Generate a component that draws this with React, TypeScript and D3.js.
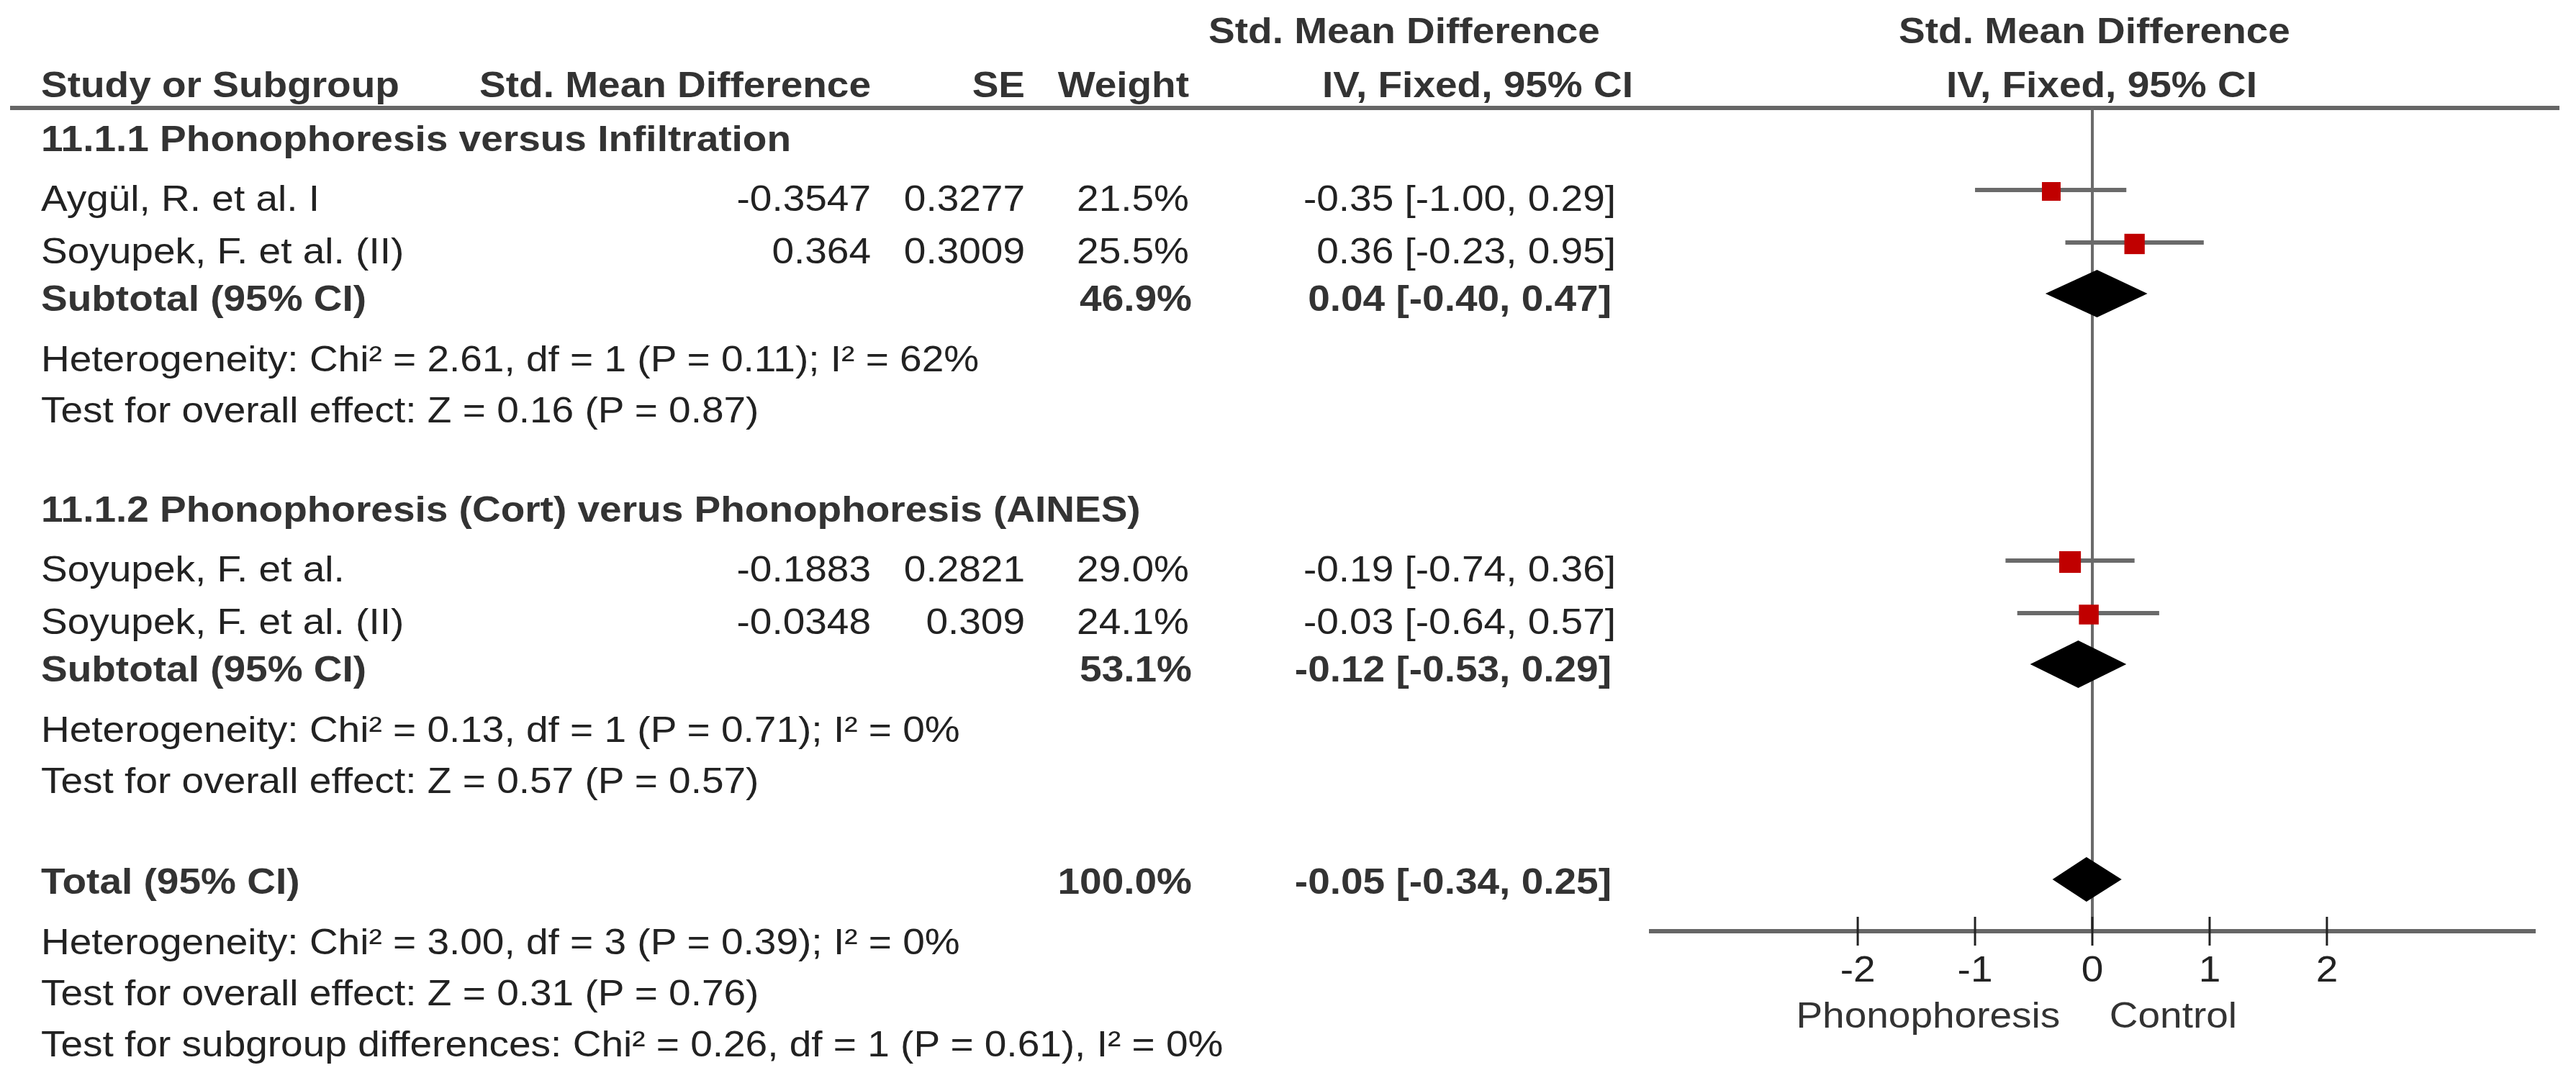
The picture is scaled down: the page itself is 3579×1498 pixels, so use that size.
import React, { useEffect, useRef } from 'react';
import * as d3 from 'd3';

// Study rows
const groupTitles = [
  '11.1.1 Phonophoresis versus Infiltration',
  '11.1.2 Phonophoresis (Cort) verus Phonophoresis (AINES)',
];
const studyNames = ['Aygül, R. et al. I', 'Soyupek, F. et al. (II)', 'Soyupek, F. et al.', 'Soyupek, F. et al. (II)'];
const studyGroup = [0, 0, 1, 1];
const smdLabels = ['-0.3547', '0.364', '-0.1883', '-0.0348'];
const seLabels = ['0.3277', '0.3009', '0.2821', '0.309'];
const studyWeights = [21.5, 25.5, 29.0, 24.1];
const studyEst = [-0.35, 0.36, -0.19, -0.03];
const studyLower = [-1.0, -0.23, -0.74, -0.64];
const studyUpper = [0.29, 0.95, 0.36, 0.57];

// Subtotals
const subWeights = [46.9, 53.1];
const subEst = [0.04, -0.12];
const subLower = [-0.4, -0.53];
const subUpper = [0.47, 0.29];
const subHetero = [
  'Heterogeneity: Chi² = 2.61, df = 1 (P = 0.11); I² = 62%',
  'Heterogeneity: Chi² = 0.13, df = 1 (P = 0.71); I² = 0%',
];
const subOverall = [
  'Test for overall effect: Z = 0.16 (P = 0.87)',
  'Test for overall effect: Z = 0.57 (P = 0.57)',
];

// Total
const totalWeight = [100.0];
const totalEst = [-0.05];
const totalLower = [-0.34];
const totalUpper = [0.25];
const totalNotes = [
  'Heterogeneity: Chi² = 3.00, df = 3 (P = 0.39); I² = 0%',
  'Test for overall effect: Z = 0.31 (P = 0.76)',
  'Test for subgroup differences: Chi² = 0.26, df = 1 (P = 0.61), I² = 0%',
];

const axisTicks = [-2, -1, 0, 1, 2];
const favourLabels = ['Phonophoresis', 'Control'];

const W = 3579;
const H = 1498;
const FONT = '"Liberation Sans", Arial, sans-serif';
const FS = 50;
const XS = 1.1; // the source text is a little wider than plain Arial

const fmt2 = (v: number) => v.toFixed(2);
const ciLabel = (e: number, lo: number, hi: number) => `${fmt2(e)} [${fmt2(lo)}, ${fmt2(hi)}]`;

const App: React.FC = () => {
  const svgRef = useRef<SVGSVGElement>(null);

  useEffect(() => {
    if (!svgRef.current) return;
    const svg = d3.select(svgRef.current);
    svg.selectAll('*').remove();

    const txt = (x: number, y: number, s: string, anchor = 'start', bold = false, fill = '#222') =>
      svg.append('text')
        .attr('transform', `translate(${x},${y}) scale(${XS},1)`)
        .attr('text-anchor', anchor)
        .style('font-family', FONT)
        .style('font-size', `${FS}px`)
        .style('font-weight', bold ? 'bold' : 'normal')
        .style('fill', fill)
        .text(s);

    // columns
    const colName = 57;
    const colSmd = 1210;
    const colSe = 1424;
    const colWeight = 1652;
    const colCi = 2245;

    const x = d3.scaleLinear().domain([-3.78, 3.78]).range([2291, 3523]);
    const box = d3.scaleSqrt().domain([0, 100]).range([0, 56]);

    // row baselines
    const headerY = 135;
    const lineY = 150;
    const rows: { kind: string; idx: number; y: number }[] = [];
    let y = headerY;
    groupTitles.forEach((_, gi) => {
      y += gi === 0 ? 75 : 138;
      rows.push({ kind: 'title', idx: gi, y });
      let first = true;
      studyGroup.forEach((g, si) => {
        if (g !== gi) return;
        y += first ? 83 : 73;
        first = false;
        rows.push({ kind: 'study', idx: si, y });
      });
      y += 66;
      rows.push({ kind: 'subtotal', idx: gi, y });
      y += 84;
      rows.push({ kind: 'het', idx: gi, y });
      y += 71;
      rows.push({ kind: 'overall', idx: gi, y });
    });
    y += 140;
    rows.push({ kind: 'total', idx: 0, y });
    totalNotes.forEach((_, i) => {
      y += i === 0 ? 84 : 71;
      rows.push({ kind: 'note', idx: i, y });
    });
    const axisY = 1294;

    // header
    txt(colName, headerY, 'Study or Subgroup', 'start', true, '#333');
    txt(colSmd, headerY, 'Std. Mean Difference', 'end', true, '#333');
    txt(colSe, headerY, 'SE', 'end', true, '#333');
    txt(colWeight, headerY, 'Weight', 'end', true, '#333');
    txt(1951, 60, 'Std. Mean Difference', 'middle', true, '#333');
    txt(2269, headerY, 'IV, Fixed, 95% CI', 'end', true, '#333');
    txt(x(0) + 3, 60, 'Std. Mean Difference', 'middle', true, '#333');
    txt(x(0) + 13, headerY, 'IV, Fixed, 95% CI', 'middle', true, '#333');

    svg.append('line')
      .attr('x1', 14).attr('x2', 3556)
      .attr('y1', lineY).attr('y2', lineY)
      .attr('stroke', '#666').attr('stroke-width', 6);

    // zero line
    svg.append('line')
      .attr('x1', x(0)).attr('x2', x(0))
      .attr('y1', lineY).attr('y2', axisY)
      .attr('stroke', '#6a6a6a').attr('stroke-width', 4);

    const diamond = (cy: number, e: number, lo: number, hi: number, h: number) =>
      svg.append('path')
        .attr('d', `M${x(lo)},${cy}L${x(e)},${cy - h}L${x(hi)},${cy}L${x(e)},${cy + h}Z`)
        .attr('fill', '#000');

    rows.forEach(r => {
      if (r.kind === 'title') {
        txt(colName, r.y, groupTitles[r.idx], 'start', true, '#333');
      } else if (r.kind === 'study') {
        const i = r.idx;
        txt(colName, r.y, studyNames[i]);
        txt(colSmd, r.y, smdLabels[i], 'end');
        txt(colSe, r.y, seLabels[i], 'end');
        txt(colWeight, r.y, `${studyWeights[i].toFixed(1)}%`, 'end');
        txt(colCi, r.y, ciLabel(studyEst[i], studyLower[i], studyUpper[i]), 'end');
        const cy = r.y - 27;
        svg.append('line')
          .attr('x1', x(studyLower[i])).attr('x2', x(studyUpper[i]))
          .attr('y1', cy - 2).attr('y2', cy - 2)
          .attr('stroke', '#6a6a6a').attr('stroke-width', 6);
        const s = box(studyWeights[i]);
        svg.append('rect')
          .attr('x', x(studyEst[i]) - s / 2).attr('y', cy - s / 2)
          .attr('width', s).attr('height', s)
          .attr('fill', '#c00000');
      } else if (r.kind === 'subtotal') {
        const i = r.idx;
        txt(colName, r.y, 'Subtotal (95% CI)', 'start', true, '#333');
        txt(colWeight + 4, r.y, `${subWeights[i].toFixed(1)}%`, 'end', true, '#333');
        txt(colCi - 6, r.y, ciLabel(subEst[i], subLower[i], subUpper[i]), 'end', true, '#333');
        diamond(r.y - 24, subEst[i], subLower[i], subUpper[i], 33);
      } else if (r.kind === 'het') {
        txt(colName, r.y, subHetero[r.idx]);
      } else if (r.kind === 'overall') {
        txt(colName, r.y, subOverall[r.idx]);
      } else if (r.kind === 'total') {
        txt(colName, r.y, 'Total (95% CI)', 'start', true, '#333');
        txt(colWeight + 4, r.y, `${totalWeight[0].toFixed(1)}%`, 'end', true, '#333');
        txt(colCi - 6, r.y, ciLabel(totalEst[0], totalLower[0], totalUpper[0]), 'end', true, '#333');
        diamond(r.y - 20, totalEst[0], totalLower[0], totalUpper[0], 31);
      } else if (r.kind === 'note') {
        txt(colName, r.y, totalNotes[r.idx]);
      }
    });

    // x axis
    svg.append('line')
      .attr('x1', x.range()[0]).attr('x2', x.range()[1])
      .attr('y1', axisY).attr('y2', axisY)
      .attr('stroke', '#666').attr('stroke-width', 6);

    axisTicks.forEach(t => {
      svg.append('line')
        .attr('x1', x(t)).attr('x2', x(t))
        .attr('y1', axisY - 20).attr('y2', axisY + 20)
        .attr('stroke', '#222').attr('stroke-width', 3);
      txt(x(t), axisY + 70, d3.format('')(t).replace('−', '-'), 'middle', false, '#222');
    });

    txt(x(-1.4), axisY + 134, favourLabels[0], 'middle', false, '#333');
    txt(x(0.69), axisY + 134, favourLabels[1], 'middle', false, '#333');
  }, []);

  return (
    <svg
      ref={svgRef}
      width={W}
      height={H}
      style={{ position: 'absolute', left: 0, top: 0, background: '#fff' }}
    />
  );
};

export default App;
